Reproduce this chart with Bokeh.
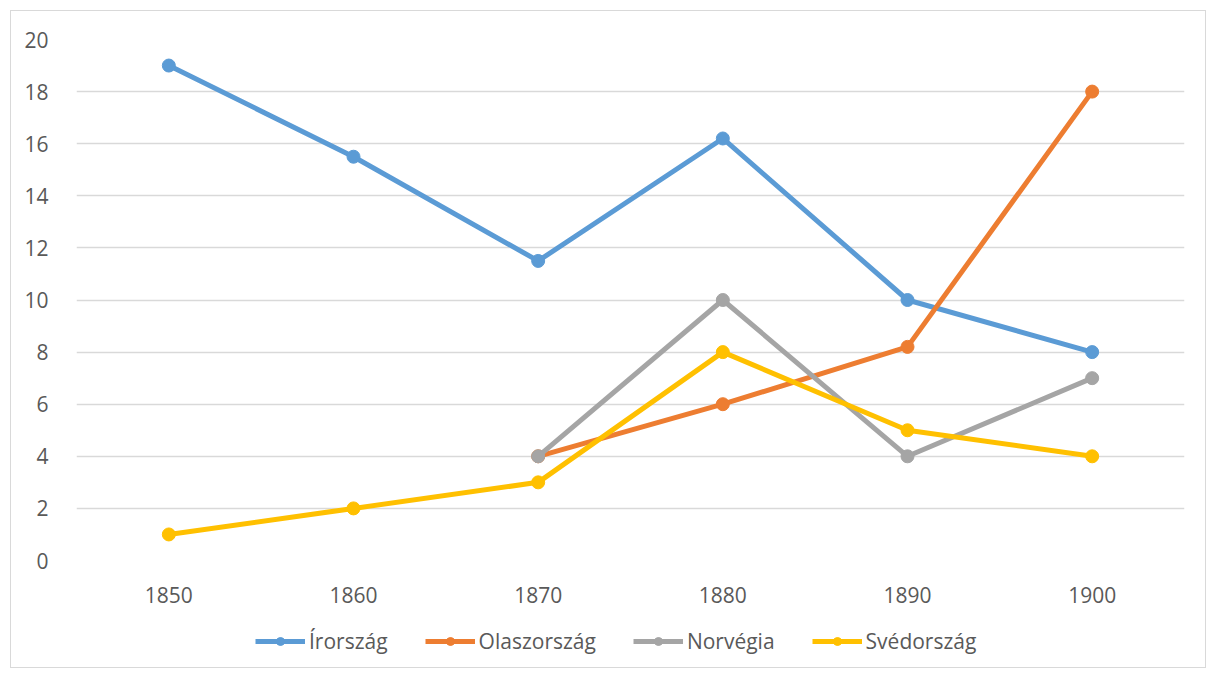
from bokeh.plotting import figure
from bokeh.models import Legend, LegendItem, Range1d, FixedTicker
from bokeh.layouts import column
from bokeh.embed import file_html
from bokeh.resources import INLINE

years = [1850, 1860, 1870, 1880, 1890, 1900]
irorszag = [19, 15.5, 11.5, 16.2, 10, 8]
olaszorszag = [float("nan"), float("nan"), 4, 6, 8.2, 18]
norvegia = [float("nan"), float("nan"), 4, 10, 4, 7]
svedorszag = [1, 2, 3, 8, 5, 4]
series_names = ["Írország", "Olaszország", "Norvégia", "Svédország"]
series_values = [irorszag, olaszorszag, norvegia, svedorszag]
colors = ["#5B9BD5", "#ED7D31", "#A5A5A5", "#FFC000"]
y_ticks = list(range(0, 21, 2))

FONT = "Open Sans"
TXT = "#595959"
LW = 5
MS = 13

p = figure(width=1194, height=599, output_backend="svg", toolbar_location=None,
           x_range=Range1d(1845, 1905), y_range=Range1d(0, 20),
           min_border_left=65, min_border_right=21, min_border_top=28, min_border_bottom=50)
p.outline_line_color = None

for name, vals, c in zip(series_names, series_values, colors):
    p.line(years, vals, line_color=c, line_width=LW)
    p.scatter(years, vals, size=MS, fill_color=c, line_color=c)

p.xaxis.ticker = FixedTicker(ticks=years)
p.yaxis.ticker = FixedTicker(ticks=y_ticks)
for ax in (p.xaxis, p.yaxis):
    ax.axis_line_color = None
    ax.major_tick_line_color = None
    ax.minor_tick_line_color = None
    ax.major_label_text_font = FONT
    ax.major_label_text_font_size = "21px"
    ax.major_label_text_color = TXT
p.yaxis.major_label_standoff = 22
p.xaxis.major_label_standoff = 20
p.xgrid.grid_line_color = None
p.ygrid.grid_line_color = "#d9d9d9"
p.ygrid.grid_line_width = 1.5

# legend strip (its series renderers lie outside its own ranges, only the legend shows)
lg = figure(width=1194, height=57, output_backend="svg", toolbar_location=None,
            x_axis_type=None, y_axis_type=None, x_range=Range1d(0, 1), y_range=Range1d(0, 1),
            min_border=0)
lg.outline_line_color = None
lg.grid.visible = False
items = []
for name, vals, c in zip(series_names, series_values, colors):
    r1 = lg.line(years, vals, line_color=c, line_width=LW)
    r2 = lg.scatter(years, vals, size=MS, fill_color=c, line_color=c)
    items.append(LegendItem(label=name, renderers=[r1, r2]))
legend = Legend(items=items, orientation="horizontal", location=(179, 12),
                glyph_width=50, glyph_height=20, label_standoff=4, spacing=37,
                padding=0, margin=0, border_line_color=None, background_fill_alpha=0,
                label_text_font=FONT, label_text_font_size="21px", label_text_color=TXT)
lg.add_layout(legend, "center")

layout = column(p, lg, margin=(10, 0, 0, 10), styles={"border": "1px solid #d9d9d9"})

open("out.html", "w").write(file_html(layout, INLINE))
